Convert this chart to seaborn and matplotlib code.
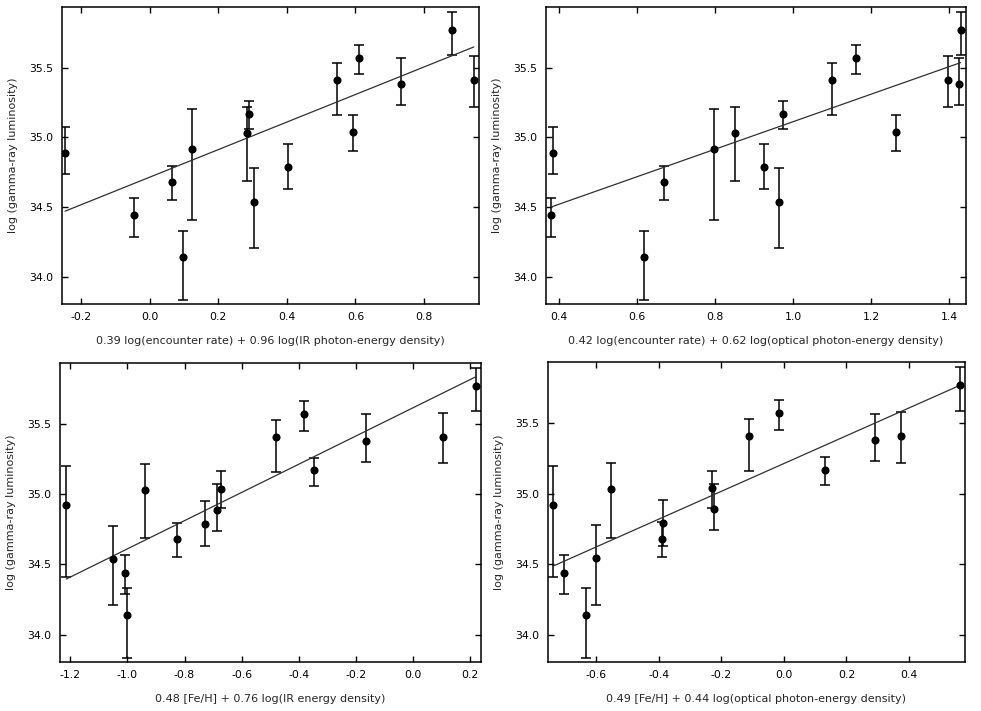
import numpy as np
import pandas as pd
import seaborn as sns
import matplotlib
matplotlib.use("Agg")
import matplotlib.pyplot as plt

# 15 clusters, same gamma-ray luminosity in every panel
lum = [34.14, 34.44, 34.54, 34.68, 34.79, 34.89, 34.92, 35.03, 35.04,
       35.17, 35.38, 35.41, 35.41, 35.57, 35.77]
lum_lo = [33.835, 34.288, 34.21, 34.55, 34.63, 34.74, 34.41, 34.687, 34.90,
          35.06, 35.232, 35.16, 35.22, 35.452, 35.59]
lum_hi = [34.33, 34.565, 34.777, 34.797, 34.952, 35.072, 35.20, 35.218, 35.163,
          35.26, 35.569, 35.53, 35.582, 35.663, 35.90]

# x values of each panel (same cluster order as lum)
x_enc_ir = [0.098, -0.045, 0.304, 0.066, 0.403, -0.246, 0.124, 0.285, 0.594,
            0.290, 0.734, 0.546, 0.945, 0.609, 0.882]
x_enc_opt = [0.620, 0.381, 0.964, 0.669, 0.927, 0.387, 0.798, 0.852, 1.264,
             0.974, 1.426, 1.099, 1.396, 1.162, 1.429]
x_feh_ir = [-1.000, -1.008, -1.049, -0.825, -0.730, -0.688, -1.214, -0.937, -0.674,
            -0.347, -0.165, -0.481, 0.104, -0.380, 0.219]
x_feh_opt = [-0.633, -0.704, -0.600, -0.389, -0.386, -0.222, -0.738, -0.552, -0.231,
             0.130, 0.291, -0.112, 0.375, -0.014, 0.562]

# fitted lines (slope, intercept)
fit_slope = [0.989, 0.988, 1.005, 0.987]
fit_icpt = [34.714, 34.124, 35.616, 35.214]

xlabels = ["0.39 log(encounter rate) + 0.96 log(IR photon-energy density)",
           "0.42 log(encounter rate) + 0.62 log(optical photon-energy density)",
           "0.48 [Fe/H] + 0.76 log(IR energy density)",
           "0.49 [Fe/H] + 0.44 log(optical photon-energy density)"]
xticks = [[-0.2, 0.0, 0.2, 0.4, 0.6, 0.8],
          [0.4, 0.6, 0.8, 1.0, 1.2, 1.4],
          [-1.2, -1.0, -0.8, -0.6, -0.4, -0.2, 0.0, 0.2],
          [-0.6, -0.4, -0.2, 0.0, 0.2, 0.4]]
xlims = [(-0.255, 0.96), (0.368, 1.443), (-1.236, 0.238), (-0.754, 0.579)]
yticks = [34.0, 34.5, 35.0, 35.5]

sns.set_style("ticks")
plt.rcParams['font.family'] = ['DejaVu Sans']

W, H = 981, 711
fig = plt.figure(figsize=(W / 100, H / 100), dpi=100)

# axes boxes in pixels: left, right, top, bottom
boxes = [(62, 479, 7, 304), (546, 966, 7, 304),
         (60, 481, 363, 662), (548, 965, 362, 662)]

xs_all = [x_enc_ir, x_enc_opt, x_feh_ir, x_feh_opt]
lum = np.array(lum)
yerr = np.array([lum - np.array(lum_lo), np.array(lum_hi) - lum])

for i in range(4):
    l, r, t, b = boxes[i]
    ax = fig.add_axes([l / W, 1 - b / H, (r - l) / W, (b - t) / H])
    df = pd.DataFrame({"x": xs_all[i], "y": lum})
    ax.errorbar(df["x"], df["y"], yerr=yerr, fmt="none", ecolor="black",
                elinewidth=1.1, capsize=3.3, capthick=1.1, zorder=2)
    sns.scatterplot(data=df, x="x", y="y", ax=ax, color="black", s=34,
                    edgecolor="black", linewidth=0, zorder=3)
    xx = np.array([min(xs_all[i]), max(xs_all[i])])
    fit = pd.DataFrame({"x": xx, "y": fit_icpt[i] + fit_slope[i] * xx})
    sns.lineplot(data=fit, x="x", y="y", ax=ax, color="#303030", linewidth=0.9, zorder=2)

    ax.set_xlim(*xlims[i])
    ax.set_ylim(33.805, 35.935)
    ax.set_xticks(xticks[i])
    ax.set_yticks(yticks)
    ax.xaxis.set_major_formatter(matplotlib.ticker.FormatStrFormatter('%.1f'))
    ax.yaxis.set_major_formatter(matplotlib.ticker.FormatStrFormatter('%.1f'))
    ax.tick_params(direction="in", top=True, right=True, length=4.5, width=1,
                   labelsize=7.8, colors="black", pad=6)
    for sp in ax.spines.values():
        sp.set_visible(True)
        sp.set_linewidth(1.1)
        sp.set_color("black")
    ax.set_xlabel(xlabels[i], fontsize=8, labelpad=10)
    ax.set_ylabel("log (gamma-ray luminosity)", fontsize=8, labelpad=8)

fig.savefig("out.png", dpi=100, facecolor="white")
